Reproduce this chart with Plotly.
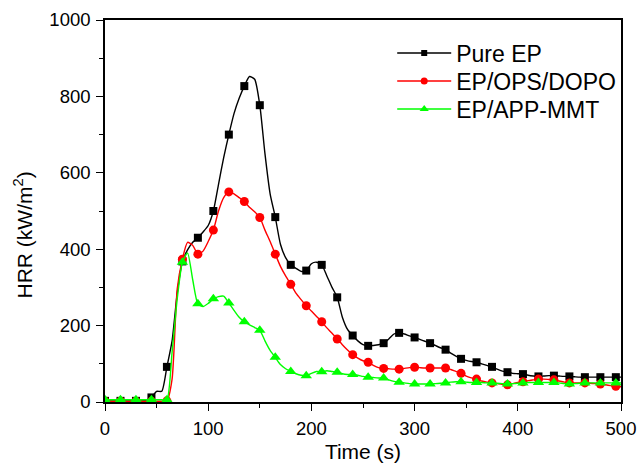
import plotly.graph_objects as go
import numpy as np

time_s = list(range(0, 505, 5))

pure_ep = [3, 3, 3, 3, 3, 3, 3, 3, 5, 12, 28, 28, 92, 160, 285, 368, 398, 418, 430, 445,
           462, 500, 570, 640, 700, 755, 795, 827, 852, 845, 777, 650, 545, 484, 413, 378,
           359, 350, 342, 344, 362, 366, 359, 330, 300, 274, 222, 190, 174, 160, 150, 147,
           148, 150, 154, 165, 178, 181, 178, 173, 169, 164, 159, 154, 148, 142, 137, 128,
           120, 113, 109, 106, 104, 100, 96, 92, 86, 81, 78, 75, 74, 73, 70, 68, 67, 68,
           69, 69, 68, 67, 67, 66, 65, 65, 65, 65, 65, 65, 65, 65, 65]

ep_ops_dopo = [2, 2, 2, 2, 2, 2, 2, 2, 2, 2, 2, 2, 3, 60, 296, 374, 418, 410, 387, 395,
               420, 450, 500, 535, 550, 545, 535, 525, 510, 498, 483, 450, 420, 387, 355, 330,
               308, 285, 268, 252, 238, 224, 210, 194, 180, 165, 150, 136, 124, 115, 108, 104,
               96, 90, 88, 87, 86, 86, 88, 90, 91, 90, 89, 89, 89, 89, 89, 85, 80, 75,
               68, 63, 60, 55, 52, 50, 48, 46, 45, 48, 51, 53, 56, 58, 60, 60, 59, 58,
               55, 52, 50, 50, 50, 50, 49, 48, 47, 45, 43, 41, 40]

ep_app_mmt = [6, 6, 6, 6, 6, 6, 6, 6, 6, 6, 6, 6, 6, 130, 270, 366, 390, 320, 257, 250,
              258, 270, 276, 277, 259, 240, 222, 210, 202, 195, 188, 160, 135, 117, 98, 87,
              80, 74, 70, 69, 75, 80, 79, 82, 80, 78, 74, 72, 72, 70, 67, 65, 64, 63,
              63, 58, 54, 52, 50, 48, 47, 47, 47, 47, 48, 49, 50, 52, 53, 53, 52, 51,
              51, 51, 50, 50, 49, 48, 47, 48, 49, 50, 51, 51, 51, 51, 51, 51, 50, 48,
              47, 48, 49, 50, 50, 50, 50, 50, 50, 50, 50]

series_names = ["Pure EP", "EP/OPS/DOPO", "EP/APP-MMT"]
series_values = [pure_ep, ep_ops_dopo, ep_app_mmt]
colors = ["#000000", "#ff0000", "#00ff00"]
symbols = ["square", "circle", "triangle-up"]
msizes = [8, 9, 10]
leg_msizes = [6, 7, 8]
legend_ids = ["legend", "legend2", "legend3"]
legend_tops = [0.9699, 0.8966, 0.8233]

fig = go.Figure()
t = np.array(time_s)
for name, vals, c, sym, ms, lms, lid in zip(series_names, series_values, colors, symbols,
                                            msizes, leg_msizes, legend_ids):
    v = np.array(vals)
    fig.add_trace(go.Scatter(x=t, y=v, mode="lines",
                             line=dict(color=c, width=1.4, shape="spline", smoothing=0.6),
                             showlegend=False, hoverinfo="skip"))
    fig.add_trace(go.Scatter(x=t[::3], y=v[::3], mode="markers",
                             marker=dict(symbol=sym, size=ms, color=c, line=dict(width=0)),
                             showlegend=False))
    fig.add_trace(go.Scatter(x=[None], y=[None], mode="lines+markers", name=name, legend=lid,
                             line=dict(color=c, width=1.4),
                             marker=dict(symbol=sym, size=lms, color=c)))

font_family = "Liberation Sans, Arial, sans-serif"
legend_common = dict(x=0.5566, xanchor="left", yanchor="top",
                     bgcolor="rgba(0,0,0,0)", font=dict(size=23), itemwidth=54)

axis_common = dict(showgrid=False, zeroline=False, showline=True, linecolor="black",
                   linewidth=1.6, mirror=True, ticks="outside", ticklen=7, tickwidth=1.3,
                   tickcolor="black", automargin=False, tickfont=dict(size=18.5))

fig.update_layout(
    width=638, height=470,
    margin=dict(l=105, r=17, t=20, b=68),
    paper_bgcolor="white", plot_bgcolor="white",
    font=dict(family=font_family, color="black", size=18),
    legend=dict(y=legend_tops[0], **legend_common),
    legend2=dict(y=legend_tops[1], **legend_common),
    legend3=dict(y=legend_tops[2], **legend_common),
    xaxis=dict(range=[0, 500], dtick=100, tick0=0, ticklabelstandoff=2,
               minor=dict(dtick=50, ticks="outside", ticklen=4, tickwidth=1.3, tickcolor="black"),
               title=dict(text="Time (s)", font=dict(size=21), standoff=6),
               **axis_common),
    yaxis=dict(range=[0, 1000], dtick=200, tick0=0, ticklabelstandoff=2,
               minor=dict(dtick=100, ticks="outside", ticklen=4, tickwidth=1.3, tickcolor="black"),
               **axis_common),
    annotations=[dict(text="HRR (kW/m<sup>2</sup>)", xref="paper", yref="paper",
                      x=-0.157, y=0.4385, xanchor="center", yanchor="middle",
                      textangle=-90, showarrow=False, font=dict(size=21))],
)

fig.write_html("out.html")
